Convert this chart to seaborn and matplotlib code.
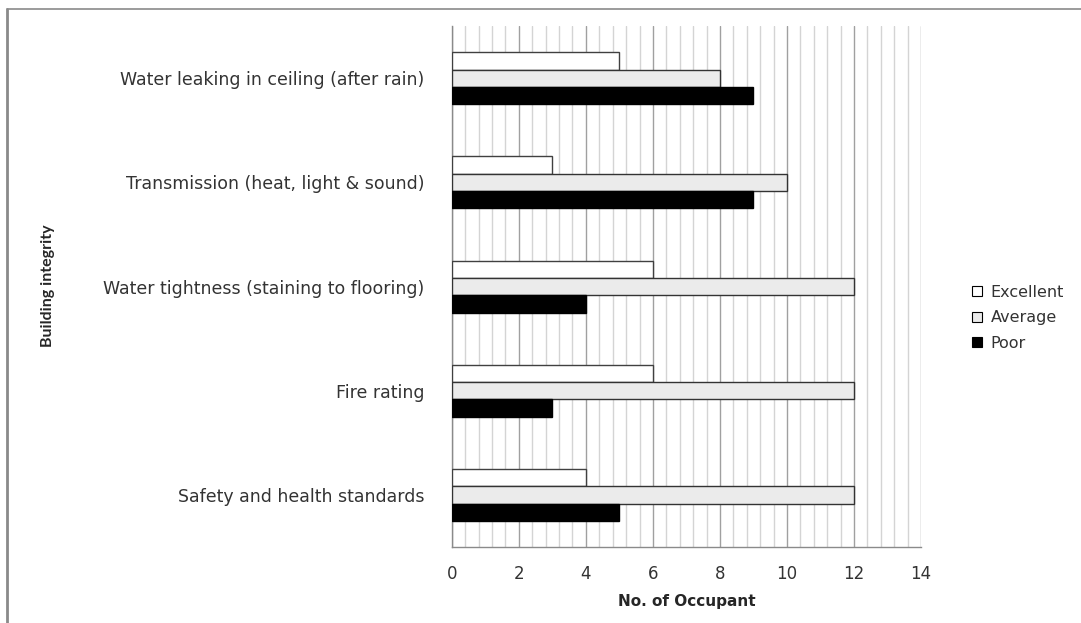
import matplotlib
matplotlib.use("Agg")
import matplotlib.pyplot as plt
import seaborn as sns
import pandas as pd
from matplotlib.lines import Line2D
from matplotlib.ticker import MultipleLocator

# ---- data ----
categories = [
    'Water leaking in ceiling (after rain)',
    'Transmission (heat, light & sound)',
    'Water tightness (staining to flooring)',
    'Fire rating',
    'Safety and health standards',
]
ratings = ['Excellent', 'Average', 'Poor']
excellent = [5, 3, 6, 6, 4]
average = [8, 10, 12, 12, 12]
poor = [9, 9, 4, 3, 5]

rows = []
for rating, vals in zip(ratings, [excellent, average, poor]):
    for cat, v in zip(categories, vals):
        rows.append({'category': cat, 'rating': rating, 'count': v})
df = pd.DataFrame(rows)

sns.set_style('white')
plt.rcParams['font.family'] = ['DejaVu Sans']

fig = plt.figure(figsize=(10.81, 6.23), dpi=100)
ax = fig.add_axes([0.418, 0.122, 0.434, 0.836])

palette = {'Excellent': '#ffffff', 'Average': '#ebebeb', 'Poor': '#000000'}
sns.barplot(data=df, y='category', x='count', hue='rating', order=categories,
            hue_order=ratings, palette=palette, width=0.5, gap=0,
            orient='h', ax=ax, zorder=3)

edges = ['#404040', '#333333', '#000000']
for cont, ec in zip(ax.containers, edges):
    for bar in cont:
        bar.set_edgecolor(ec)
        bar.set_linewidth(1.0)

ax.set_xlim(0, 14)
ax.set_ylim(len(categories) - 0.5, -0.5)
ax.xaxis.set_major_locator(MultipleLocator(2))
ax.xaxis.set_minor_locator(MultipleLocator(0.4))
ax.grid(which='major', axis='x', color='#a0a0a0', linewidth=1.0, zorder=0)
ax.grid(which='minor', axis='x', color='#d4d4d4', linewidth=1.0, zorder=0)
ax.grid(False, axis='y')
ax.set_axisbelow(True)

for s in ['top', 'right']:
    ax.spines[s].set_visible(False)
for s in ['left', 'bottom']:
    ax.spines[s].set_color('#8a8a8a')
    ax.spines[s].set_linewidth(1.0)

ax.tick_params(axis='x', which='major', length=4, color='#8a8a8a',
               labelsize=12, labelcolor='#333333', pad=9)
ax.tick_params(axis='x', which='minor', length=0)
ax.tick_params(axis='y', length=0, labelsize=12.5, labelcolor='#333333', pad=20)
for lab in ax.get_yticklabels():
    lab.set_va('center_baseline')

ax.set_xlabel('No. of Occupant', fontsize=11, fontweight='bold', labelpad=8)
ax.set_ylabel('')
fig.text(0.044, 0.541, 'Building integrity', rotation=90, ha='center', va='center',
         fontsize=11.5, fontweight='bold', family=['Lato', 'DejaVu Sans'])

leg = ax.legend(title=None, frameon=False, loc='center left',
                bbox_to_anchor=(0.886, 0.49), bbox_transform=fig.transFigure,
                fontsize=11.5, handlelength=0.6, handleheight=0.6,
                handletextpad=0.55, labelspacing=0.65)
for h in leg.legend_handles:
    h.set_edgecolor('#000000')
    h.set_linewidth(0.8)
for t in leg.get_texts():
    t.set_color('#333333')

# outer frame lines (left and top)
fig.add_artist(Line2D([0.0065, 0.0065], [0.0, 0.986], transform=fig.transFigure,
                      color='#8a8a8a', linewidth=2))
fig.add_artist(Line2D([0.0065, 1.0], [0.986, 0.986], transform=fig.transFigure,
                      color='#8a8a8a', linewidth=1.2))

fig.savefig('out.png', dpi=100)
plt.close(fig)
